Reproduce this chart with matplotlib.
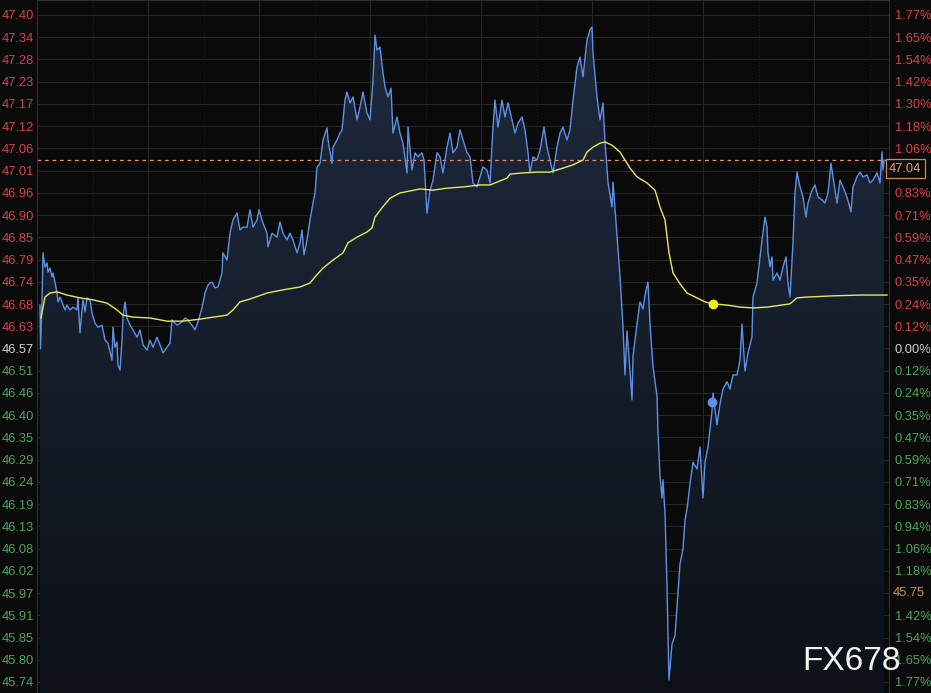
import numpy as np
import matplotlib.pyplot as plt
from matplotlib.colors import LinearSegmentedColormap

# price line (t = minutes-ish position along the session)
t_price = [3, 3.5, 5, 6, 8, 10, 11, 13, 15, 16, 18, 20, 21, 23, 25, 26, 28, 30, 33, 36, 40, 41, 43, 45, 46, 48, 50,
           53, 55, 58, 61, 65, 68, 71, 75, 76, 78, 80, 81, 83, 85, 86, 88, 90, 93, 96, 100, 103, 106, 110, 113, 116,
           120, 123, 126, 130, 133, 135, 140, 145, 148, 151, 155, 158, 161, 165, 168, 171, 173, 175, 178, 181, 183,
           185, 186, 190, 193, 196, 200, 203, 206, 210, 213, 216, 220, 222, 226, 230, 231, 235, 240, 243, 246, 250,
           253, 256, 260, 263, 265, 267, 270, 273, 276, 278, 280, 283, 286, 290, 291, 295, 296, 300, 303, 305, 308,
           310, 313, 316, 320, 323, 326, 330, 333, 336, 338, 340, 343, 346, 348, 351, 354, 356, 360, 363, 366, 370,
           371, 375, 378, 381, 385, 387, 390, 393, 396, 400, 403, 406, 410, 413, 416, 420, 423, 426, 430, 433, 436,
           440, 443, 446, 450, 453, 456, 458, 461, 465, 468, 471, 475, 478, 481, 485, 488, 491, 493, 496, 500, 503,
           507, 510, 513, 516, 520, 523, 526, 530, 533, 536, 540, 543, 546, 550, 553, 555, 556, 560, 563, 566, 568,
           571, 575, 576, 580, 583, 586, 588, 590, 593, 595, 596, 600, 603, 606, 608, 611, 613, 616, 620, 621, 623,
           625, 626, 628, 630, 631, 632, 635, 638, 641, 643, 646, 648, 650, 653, 656, 660, 663, 666, 668, 671, 675,
           676, 680, 683, 686, 690, 693, 696, 700, 703, 705, 708, 711, 715, 716, 720, 723, 725, 728, 730, 731, 733,
           735, 736, 740, 743, 746, 749, 751, 753, 756, 758, 760, 763, 766, 769, 771, 775, 778, 781, 785, 788, 791,
           794, 796, 800, 803, 806, 810, 814, 816, 820, 823, 826, 830, 833, 836, 840, 843, 845, 846, 847]
price = [46.678, 46.569, 46.686, 46.808, 46.773, 46.783, 46.760, 46.770, 46.748, 46.758, 46.735, 46.708, 46.686,
         46.698, 46.686, 46.678, 46.666, 46.678, 46.666, 46.673, 46.666, 46.696, 46.609, 46.666, 46.691, 46.661,
         46.696, 46.691, 46.658, 46.633, 46.623, 46.628, 46.591, 46.583, 46.541, 46.623, 46.573, 46.586, 46.529,
         46.516, 46.591, 46.648, 46.686, 46.646, 46.628, 46.616, 46.598, 46.616, 46.579, 46.566, 46.591, 46.573,
         46.598, 46.579, 46.559, 46.573, 46.583, 46.641, 46.628, 46.636, 46.646, 46.641, 46.628, 46.616, 46.636,
         46.671, 46.708, 46.728, 46.733, 46.735, 46.721, 46.723, 46.740, 46.758, 46.808, 46.790, 46.857, 46.890,
         46.907, 46.865, 46.872, 46.872, 46.915, 46.872, 46.890, 46.915, 46.882, 46.857, 46.823, 46.857, 46.847,
         46.885, 46.857, 46.840, 46.857, 46.840, 46.808, 46.833, 46.865, 46.803, 46.840, 46.890, 46.932, 46.957,
         47.021, 47.031, 47.089, 47.119, 47.089, 47.031, 47.071, 47.089, 47.106, 47.114, 47.188, 47.208, 47.181,
         47.196, 47.139, 47.171, 47.208, 47.156, 47.139, 47.238, 47.350, 47.313, 47.320, 47.256, 47.221, 47.196,
         47.218, 47.106, 47.146, 47.106, 47.081, 47.007, 47.121, 47.014, 47.057, 47.047, 47.057, 47.039, 46.907,
         46.964, 46.989, 47.057, 47.047, 47.007, 47.071, 47.106, 47.057, 47.071, 47.114, 47.089, 47.057, 47.047,
         46.982, 46.972, 46.997, 47.022, 47.014, 46.982, 47.121, 47.188, 47.121, 47.188, 47.146, 47.181, 47.139,
         47.106, 47.131, 47.146, 47.114, 47.057, 47.007, 47.047, 47.039, 47.064, 47.121, 47.071, 47.039, 47.007,
         47.071, 47.106, 47.121, 47.089, 47.114, 47.188, 47.270, 47.295, 47.246, 47.338, 47.363, 47.370, 47.305,
         47.196, 47.139, 47.181, 47.084, 46.984, 46.922, 46.984, 46.850, 46.750, 46.624, 46.504, 46.614, 46.514,
         46.442, 46.551, 46.631, 46.686, 46.668, 46.703, 46.735, 46.631, 46.524, 46.452, 46.360, 46.253, 46.198,
         46.243, 46.160, 45.981, 45.855, 45.745, 45.835, 45.855, 45.961, 46.034, 46.071, 46.143, 46.170, 46.233,
         46.287, 46.270, 46.325, 46.198, 46.287, 46.325, 46.414, 46.459, 46.380, 46.432, 46.469, 46.487, 46.469,
         46.504, 46.504, 46.541, 46.631, 46.514, 46.559, 46.599, 46.698, 46.733, 46.798, 46.840, 46.897, 46.872,
         46.808, 46.773, 46.798, 46.740, 46.758, 46.740, 46.773, 46.798, 46.733, 46.698, 46.833, 46.957, 47.009,
         46.972, 46.947, 46.897, 46.932, 46.964, 46.977, 46.947, 46.940, 46.932, 46.957, 47.031, 46.997, 46.932,
         46.989, 46.972, 46.947, 46.910, 46.972, 46.997, 47.009, 46.997, 47.002, 46.982, 46.989, 47.007, 46.982,
         47.059, 47.014, 47.039]

# average price line
t_avg = [4, 8, 13, 20, 30, 43, 56, 70, 80, 86, 96, 113, 130, 146, 163, 176, 190, 196, 203, 213, 230, 246, 263, 273,
         278, 286, 296, 306, 311, 320, 330, 335, 338, 345, 353, 363, 373, 383, 396, 410, 426, 443, 453, 460, 470,
         473, 486, 500, 513, 526, 536, 546, 550, 556, 563, 568, 575, 583, 588, 593, 600, 610, 618, 623, 628, 632,
         636, 643, 650, 660, 668, 676, 690, 703, 716, 730, 753, 760, 770, 796, 823, 850]
avg = [46.646, 46.698, 46.708, 46.711, 46.703, 46.696, 46.691, 46.683, 46.666, 46.653, 46.648, 46.646, 46.638,
       46.638, 46.643, 46.648, 46.653, 46.666, 46.686, 46.693, 46.708, 46.716, 46.723, 46.733, 46.748, 46.770,
       46.790, 46.808, 46.833, 46.847, 46.860, 46.870, 46.897, 46.920, 46.944, 46.957, 46.962, 46.967, 46.964,
       46.969, 46.972, 46.977, 46.977, 46.984, 46.994, 47.004, 47.007, 47.009, 47.009, 47.019, 47.027, 47.039,
       47.059, 47.071, 47.081, 47.084, 47.076, 47.059, 47.039, 47.019, 46.997, 46.982, 46.964, 46.922, 46.890,
       46.808, 46.758, 46.731, 46.708, 46.696, 46.686, 46.681, 46.678, 46.673, 46.671, 46.673, 46.681, 46.696,
       46.698, 46.701, 46.703, 46.703]

left_labels = ['47.40', '47.34', '47.28', '47.23', '47.17', '47.12', '47.06', '47.01', '46.96', '46.90', '46.85',
               '46.79', '46.74', '46.68', '46.63', '46.57', '46.51', '46.46', '46.40', '46.35', '46.29', '46.24',
               '46.19', '46.13', '46.08', '46.02', '45.97', '45.91', '45.85', '45.80', '45.74']
right_labels = ['1.77%', '1.65%', '1.54%', '1.42%', '1.30%', '1.18%', '1.06%', '', '0.83%', '0.71%', '0.59%',
                '0.47%', '0.35%', '0.24%', '0.12%', '0.00%', '0.12%', '0.24%', '0.35%', '0.47%', '0.59%', '0.71%',
                '0.83%', '0.94%', '1.06%', '1.18%', '', '1.42%', '1.54%', '1.65%', '1.77%']
last_price = 47.04
low_label = '45.75'
yellow_dot = (676, 46.681)
blue_dot = (675, 46.437)

RED, GREEN, WHITE = '#d6404c', '#4aa55a', '#cfcfcf'
BG = '#0a0a0a'

fig = plt.figure(figsize=(9.31, 6.93), dpi=100, facecolor=BG)
ax = fig.add_axes([37 / 931, 0, 852 / 931, 1])
ax.set_facecolor(BG)
ytop = 47.4373
ybot = ytop - 0.0024888 * 693
ax.set_ylim(ybot, ytop)
ax.set_xlim(0, 852)

ticks = np.linspace(45.74, 47.40, 31)[::-1]

# grid
for y in ticks:
    ax.axhline(y, color='#262626', lw=0.8, zorder=0)
for x in np.arange(111, 852, 111):
    ax.axvline(x, color='#262626', lw=0.8, zorder=0)
for x in np.arange(55.5, 852, 111):
    ax.axvline(x, color='#1f1f1f', lw=0.8, ls=(0, (1, 2)), zorder=0)

# gradient fill under price
poly = ax.fill_between(t_price, price, ybot, color='none', lw=0)
cmap = LinearSegmentedColormap.from_list('f', ['#0d1117', '#1e2a3e'])
grad = np.linspace(0, 1, 256).reshape(-1, 1)
im = ax.imshow(grad, extent=[0, 852, ybot, 47.40], origin='lower', aspect='auto', cmap=cmap, zorder=1)
im.set_clip_path(poly.get_paths()[0], transform=ax.transData)

ax.axhline(last_price, color='#e0906a', lw=0.9, ls=(0, (3, 3)), zorder=2)
ax.plot(t_price, price, color='#5e90e6', lw=1.0, zorder=3)
ax.plot(t_avg, avg, color='#e8e85e', lw=1.0, zorder=4)
ax.plot(*yellow_dot, 'o', color='#f2ee1a', ms=6, zorder=5)
ax.plot(*blue_dot, 'o', color='#5e90e6', ms=6, zorder=5)

for s in ax.spines.values():
    s.set_color('#2e2e2e')
ax.set_xticks([])

ax.set_yticks(ticks)
ax.set_yticklabels(left_labels, fontfamily='Liberation Sans', fontsize=9.3)
ax.tick_params(axis='y', length=0, pad=2)
for i, lab in enumerate(ax.get_yticklabels()):
    lab.set_color(RED if i < 15 else (WHITE if i == 15 else GREEN))

ax2 = ax.twinx()
ax2.set_ylim(ybot, ytop)
ax2.set_yticks(ticks)
ax2.set_yticklabels(right_labels, fontfamily='Liberation Sans', fontsize=9.3)
ax2.tick_params(axis='y', length=0, pad=4)
for i, lab in enumerate(ax2.get_yticklabels()):
    lab.set_color(RED if i < 15 else (WHITE if i == 15 else GREEN))
for s in ax2.spines.values():
    s.set_visible(False)

ax2.text(1.0, ticks[7] + 0.005, f'{last_price:.2f}', transform=ax2.get_yaxis_transform(), ha='left',
         va='center', color='#eba060', fontsize=9.3, fontfamily='Liberation Sans',
         bbox=dict(boxstyle='square,pad=0.25', fc=BG, ec='#d08a4a', lw=0.9))
ax2.text(1.004, ticks[26], low_label, transform=ax2.get_yaxis_transform(), ha='left', va='center',
         color='#dd8c58', fontsize=9.3, fontfamily='Liberation Sans')

fig.text(802 / 931, 23 / 693, 'FX678', color='#f2f2f2', fontsize=24, fontfamily='Liberation Sans',
         ha='left', va='baseline')

fig.savefig('out.png', dpi=100, facecolor=BG)
